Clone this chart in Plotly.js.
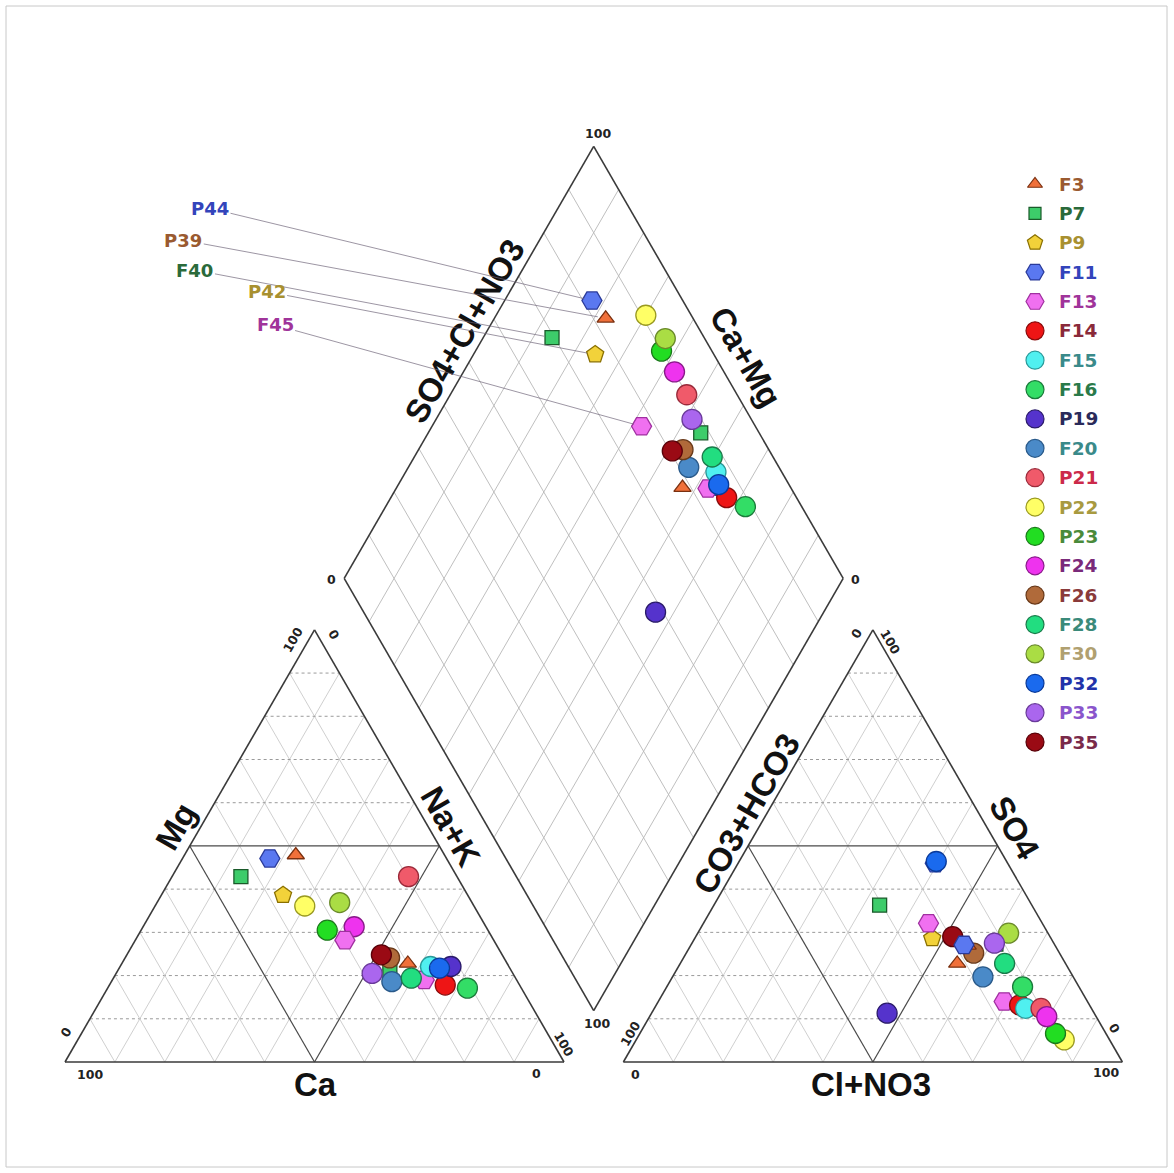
<!DOCTYPE html>
<html><head><meta charset="utf-8">
<script src="https://cdn.plot.ly/plotly-3.0.1.min.js"></script>
<style>html,body{margin:0;padding:0;background:#fff;} #chart{width:1174px;height:1173px;}</style>
</head><body><div id="chart"></div>
<script>
// ---------- DATA (percent of meq) ----------
const samples = ['F3','P7','P9','F11','F13','F14','F15','F16','P19','F20','P21','P22','P23','F24','F26','F28','F30','P32','P33','P35','P39','F40','P42','P44','F45'];
const Ca    = [19.9,24.4,23.1,14.0,18.5,14.9,15.7,10.8,11.6,25.2, 9.7,33.9,32.2,26.4,22.9,20.9,26.5,14.1,28.2,24.2,29.8,43.3,37.0,35.4,29.8];
const Mg    = [22.8,21.0,24.1,21.7,19.0,17.8,22.1,17.1,22.1,18.6,42.9,36.1,30.5,31.3,24.1,19.4,36.9,21.7,20.5,24.8,47.9,42.9,38.6,47.1,28.2];
const NaK   = [57.3,54.6,52.8,64.3,62.5,67.3,62.2,72.1,66.3,56.2,47.4,30.0,37.3,42.3,53.0,59.7,36.6,64.2,51.3,51.0,22.3,13.8,24.4,17.5,42.0];
const HCO3  = [21.7,11.7,17.5,14.5,16.7,14.0,13.2,11.3,41.5,18.1,10.1, 9.1,10.1, 9.9,17.2,12.2, 7.9,14.1,11.9,19.5,17.5,30.5,23.8,18.2,22.8];
const SO4   = [22.8,27.3,25.0,46.0,14.0,13.2,12.4,17.4,11.3,19.7,12.4, 5.1, 6.6,10.5,25.2,22.8,29.8,46.4,27.5,29.0,27.0,36.3,28.6,27.1,32.1];
const ClNO3 = [55.5,61.0,57.5,39.5,69.3,72.8,74.4,71.3,47.2,62.2,77.5,85.8,83.3,79.6,57.6,65.0,62.3,39.5,60.6,51.5,55.5,33.2,47.6,54.7,45.1];
const legendCount = 20;           // first 20 samples appear in the legend
const leaderSamples = ['P44','P39','F40','P42','F45'];

// ---------- STYLES (cycled every 20 samples) ----------
const styles = [
 {sym:'triangle-up',size:15,fill:'#f0703a',line:'#7a3010',txt:'#9a5a30'},
 {sym:'square',     size:14,fill:'#3dcc6a',line:'#1a5a2a',txt:'#2a6a3a'},
 {sym:'pentagon',   size:18,fill:'#f2d23a',line:'#8a7000',txt:'#a89030'},
 {sym:'hexagon2',   size:20,fill:'#5a78f0',line:'#2a3a9a',txt:'#3344bb'},
 {sym:'hexagon2',   size:20,fill:'#f070f0',line:'#a030a0',txt:'#a0349a'},
 {sym:'circle',size:20,fill:'#ee1515',line:'#8a0a0a',txt:'#8a2a3a'},
 {sym:'circle',size:20,fill:'#50f0f0',line:'#2a9a9a',txt:'#3a8a8a'},
 {sym:'circle',size:20,fill:'#33dd66',line:'#1a7a3a',txt:'#2a7a4a'},
 {sym:'circle',size:20,fill:'#5533cc',line:'#2a1a6a',txt:'#2a2a5a'},
 {sym:'circle',size:20,fill:'#4a8ac8',line:'#2a5a8a',txt:'#3a8a8a'},
 {sym:'circle',size:20,fill:'#f05a6a',line:'#9a2a3a',txt:'#cc2a4a'},
 {sym:'circle',size:20,fill:'#ffff66',line:'#9a9a20',txt:'#a89a40'},
 {sym:'circle',size:20,fill:'#22dd22',line:'#1a7a1a',txt:'#4a8a3a'},
 {sym:'circle',size:20,fill:'#ee33ee',line:'#8a1a8a',txt:'#7a2a7a'},
 {sym:'circle',size:20,fill:'#b06a3a',line:'#6a3a1a',txt:'#8a3a3a'},
 {sym:'circle',size:20,fill:'#22dd80',line:'#1a7a4a',txt:'#3a8a7a'},
 {sym:'circle',size:20,fill:'#aadd44',line:'#6a8a2a',txt:'#b0a070'},
 {sym:'circle',size:20,fill:'#1a6aee',line:'#0a3a9a',txt:'#2233aa'},
 {sym:'circle',size:20,fill:'#aa66ee',line:'#6a3a9a',txt:'#8a55cc'},
 {sym:'circle',size:20,fill:'#9a0a14',line:'#5a0008',txt:'#7a2a4a'}
];

// ---------- GEOMETRY ----------
const W = 1174, H = 1173;
const OXPX = 65, OYPX = 1062, PX = 4.99;   // origin (bottom-left of cation triangle) and px per unit
const GAP = 11.9, R3 = Math.sqrt(3)/2, OX = 100 + GAP;
function cat(mg, nak){ return [nak + mg/2, mg*R3]; }
function an(so4, cl){ return [OX + cl + so4/2, so4*R3]; }
function dia(nak, hco3){ return [(200 + GAP - hco3 + nak)/2, R3*(200 + GAP - hco3 - nak)]; }

const shapes = [];
function seg(p, q, color, width, dash){
  shapes.push({type:'line', xref:'x', yref:'y', x0:p[0], y0:p[1], x1:q[0], y1:q[1],
    line:{color:color, width:width, dash:dash||'solid'}, layer:'below'});
}
const LIGHT = '#c9c9c9', DOT = '#9a9a9a', DARK = '#4a4a4a';
for (let k = 10; k < 100; k += 10){
  const mid = (k === 50);
  // cation triangle
  seg(cat(k,0), cat(k,100-k), mid?DARK:DOT, mid?1.2:1, mid?'solid':'dot');
  seg(cat(0,k), cat(100-k,k), mid?DARK:LIGHT, mid?1.2:0.9);
  seg(cat(0,100-k), cat(100-k,0), mid?DARK:LIGHT, mid?1.2:0.9);
  // anion triangle
  seg(an(k,0), an(k,100-k), mid?DARK:DOT, mid?1.2:1, mid?'solid':'dot');
  seg(an(0,k), an(100-k,k), mid?DARK:LIGHT, mid?1.2:0.9);
  seg(an(0,100-k), an(100-k,0), mid?DARK:LIGHT, mid?1.2:0.9);
  // diamond
  seg(dia(k,0), dia(k,100), '#b8b8b8', 0.9);
  seg(dia(0,k), dia(100,k), '#b8b8b8', 0.9);
}
// outlines
const OUT = '#3a3a3a';
seg(cat(0,0), cat(100,0), OUT, 1.6); seg(cat(100,0), cat(0,100), OUT, 1.6); seg(cat(0,0), cat(0,100), OUT, 1.6);
seg(an(0,0), an(100,0), OUT, 1.6); seg(an(100,0), an(0,100), OUT, 1.6); seg(an(0,0), an(0,100), OUT, 1.6);
seg(dia(0,0), dia(100,0), OUT, 1.6); seg(dia(100,0), dia(100,100), OUT, 1.6);
seg(dia(100,100), dia(0,100), OUT, 1.6); seg(dia(0,100), dia(0,0), OUT, 1.6);
// page frame
shapes.push({type:'rect', xref:'paper', yref:'paper', x0:6/W, x1:1167/W, y0:1-1167/H, y1:1-6/H,
  line:{color:'#c8c8c8', width:1}, layer:'below'});

// ---------- TRACES ----------
const traces = [];
samples.forEach((s, i) => {
  const st = styles[i % legendCount];
  const c = cat(Mg[i], NaK[i]), a = an(SO4[i], ClNO3[i]), d = dia(NaK[i], HCO3[i]);
  traces.push({
    type:'scatter', mode:'markers', name:s, showlegend:false, cliponaxis:false,
    x:[c[0], a[0], d[0]], y:[c[1], a[1], d[1]],
    marker:{symbol:st.sym, size:st.size, opacity:1, color:st.fill, line:{color:st.line, width:1.3}},
    hovertemplate: s + '<extra></extra>'
  });
});

// custom legend (pixel overlay axes)
const legTop = 184, legStep = 29.37, legMarkX = 1035, legTextX = 1057;
const legNames = samples.slice(0, legendCount);
traces.push({
  type:'scatter', mode:'markers', xaxis:'x2', yaxis:'y2', showlegend:false, hoverinfo:'skip', cliponaxis:false,
  x: legNames.map(() => legMarkX),
  y: legNames.map((_, i) => legTop + i*legStep),
  marker:{
    opacity:1,
    symbol: legNames.map((_, i) => styles[i].sym),
    size: legNames.map((_, i) => Math.round(styles[i].size*0.88)),
    color: legNames.map((_, i) => styles[i].fill),
    line:{color: legNames.map((_, i) => styles[i].line), width:1.2}
  }
});

// ---------- ANNOTATIONS ----------
const ann = [];
const TF = 'DejaVu Sans, Verdana, sans-serif';
const AF = 'Liberation Sans, Arial, sans-serif';
function label(text, u, v, angle, size, color, bold, fam){
  ann.push({xref:'x', yref:'y', x:u, y:v, text: bold ? '<b>'+text+'</b>' : text, showarrow:false,
    textangle:angle, xanchor:'center', yanchor:'middle', font:{family:fam, size:size, color:color}});
}
// tick labels
const TK = 12.5, TC = '#222';
[['100',5.0,-2.6,0],['0',94.5,-2.3,0],['0',0.2,5.9,-60],['100',45.75,84.6,-60],['0',53.8,85.6,60],['100',99.9,3.7,60],
 ['0',114.4,-2.6,0],['100',208.6,-2.2,0],['100',113.3,5.75,-60],['0',158.6,85.9,-60],['100',165.3,84.2,60],['0',210.3,6.75,60],
 ['100',106.9,186.1,0],['0',53.4,96.6,0],['0',158.5,96.6,0],['100',106.6,7.75,0]
].forEach(t => label(t[0], t[1], t[2], t[3], TK, TC, true, TF));
// axis titles
const AT = 33, AC = '#111';
[['Mg',22.2,47.2,-60],['Na+K',77.3,47.2,60],['Ca',50.1,-4.6,0],
 ['CO3+HCO3',136.6,49.8,-60],['SO4',190.2,46.9,60],['Cl+NO3',161.6,-4.6,0],
 ['SO4+Cl+NO3',80.0,146.4,-60],['Ca+Mg',136.3,141.3,60]
].forEach(t => label(t[0], t[1], t[2], t[3], AT, AC, true, AF));

// legend text
legNames.forEach((s, i) => {
  ann.push({xref:'x2', yref:'y2', x:legTextX, y:legTop + i*legStep, text:'<b>'+s+'</b>', showarrow:false,
    xanchor:'left', yanchor:'middle', font:{family:TF, size:18.5, color:styles[i].txt}});
});

// leader-line labels for samples not in the legend
const leaderPos = {P44:[29.06,171.08], P39:[23.7,164.7], F40:[26.05,158.7], P42:[40.4,154.4], F45:[42.1,147.7]};
leaderSamples.forEach(s => {
  const i = samples.indexOf(s);
  const st = styles[i % legendCount];
  const d = dia(NaK[i], HCO3[i]);
  ann.push({xref:'x', yref:'y', axref:'x', ayref:'y', x:d[0], y:d[1], ax:leaderPos[s][0], ay:leaderPos[s][1],
    text:'<b>'+s+'</b>', showarrow:true, arrowhead:0, arrowwidth:0.8, arrowcolor:'rgba(110,100,120,0.85)',
    standoff:8, startstandoff:0, font:{family:TF, size:18, color:st.txt}});
});

const layout = {
  width:W, height:H, margin:{l:0,r:0,t:0,b:0}, paper_bgcolor:'#fff', plot_bgcolor:'rgba(0,0,0,0)',
  showlegend:false, hovermode:'closest',
  xaxis:{range:[-OXPX/PX, (W-OXPX)/PX], visible:false, fixedrange:true},
  yaxis:{range:[-(H-OYPX)/PX, OYPX/PX], visible:false, fixedrange:true},
  xaxis2:{overlaying:'x', range:[0,W], visible:false, fixedrange:true},
  yaxis2:{overlaying:'y', range:[H,0], visible:false, fixedrange:true},
  shapes:shapes, annotations:ann
};
Plotly.newPlot('chart', traces, layout, {displayModeBar:false, staticPlot:true});
</script></body></html>
